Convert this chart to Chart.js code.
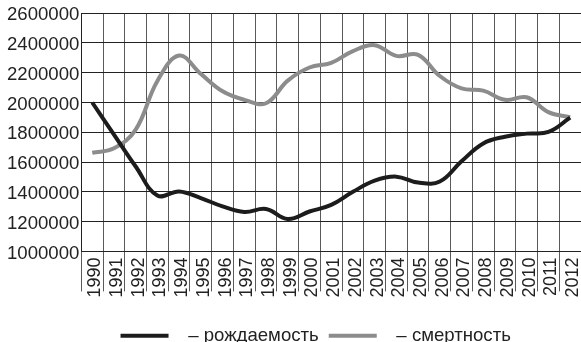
<!DOCTYPE html>
<html>
<head>
<meta charset="utf-8">
<script src="https://cdn.jsdelivr.net/npm/chart.js@4"></script>
<style>
  html, body { margin: 0; padding: 0; background: #fff; }
  #wrap { width: 581px; height: 342px; }
</style>
</head>
<body>
<div id="wrap"><canvas id="popChart"></canvas></div>
<script>
// годы и ряды
const years = ['1990', '1991', '1992', '1993', '1994', '1995', '1996', '1997', '1998', '1999', '2000',
  '2001', '2002', '2003', '2004', '2005', '2006', '2007', '2008', '2009', '2010', '2011', '2012'];
const births = [2000000, 1785000, 1570000, 1375000, 1403000, 1358000, 1302000, 1265000, 1285000, 1218000, 1268000,
  1312000, 1400000, 1475000, 1502000, 1462000, 1469000, 1605000, 1725000, 1770000, 1791000, 1802000, 1898000];
const deaths = [1662000, 1692000, 1818000, 2145000, 2315000, 2192000, 2075000, 2018000, 1995000, 2147000, 2235000,
  2266000, 2345000, 2385000, 2313000, 2320000, 2178000, 2095000, 2080000, 2018000, 2035000, 1935000, 1902000];
const yMin = 1000000;
const yMax = 2600000;
const yStep = 200000;

const family = '"Liberation Sans", Arial, sans-serif';
const font = { family: family, size: 18 };
const bigFont = { family: family, size: 18.6 };

new Chart(document.getElementById('popChart'), {
  type: 'line',
  data: {
    labels: years,
    datasets: [{
      label: '  – рождаемость',
      data: births,
      borderColor: '#1c1c1c',
      backgroundColor: '#1c1c1c',
      borderWidth: 4,
      pointRadius: 0,
      tension: 0.4
    }, {
      // хвостовые пробелы сдвигают легенду влево
      label: '  – смертность      ',
      data: deaths,
      borderColor: '#8c8c8c',
      backgroundColor: '#8c8c8c',
      borderWidth: 4,
      pointRadius: 0,
      tension: 0.4
    }]
  },
  options: {
    responsive: true,
    maintainAspectRatio: false,
    animation: false,
    layout: { padding: { top: 0, right: 0, left: 5, bottom: -13 } },
    plugins: {
      tooltip: { enabled: false },
      legend: {
        position: 'bottom',
        fullSize: false,
        labels: {
          font: bigFont,
          color: '#222',
          boxWidth: 48,
          boxHeight: 4,
          padding: 10,
          generateLabels(chart) {
            const items = Chart.defaults.plugins.legend.labels.generateLabels(chart);
            items.forEach(it => { it.lineWidth = 0; });
            return items;
          }
        }
      }
    },
    scales: {
      x: {
        offset: true,
        grid: { offset: true, color: '#5a5a5a', tickLength: 40 },
        border: { color: '#222' },
        ticks: {
          font: font,
          color: '#222',
          maxRotation: 90,
          minRotation: 90,
          padding: -34,
          labelOffset: 3,
          autoSkip: false
        },
        // высота оси под повернутые подписи годов
        afterFit(scale) { scale.height = 65; }
      },
      y: {
        min: yMin,
        max: yMax,
        grid: { color: '#222', drawTicks: false },
        border: { color: '#222' },
        ticks: {
          font: bigFont,
          color: '#222',
          stepSize: yStep,
          padding: 2,
          labelOffset: 2,
          callback: v => String(v)
        }
      }
    }
  }
});
</script>
</body>
</html>
